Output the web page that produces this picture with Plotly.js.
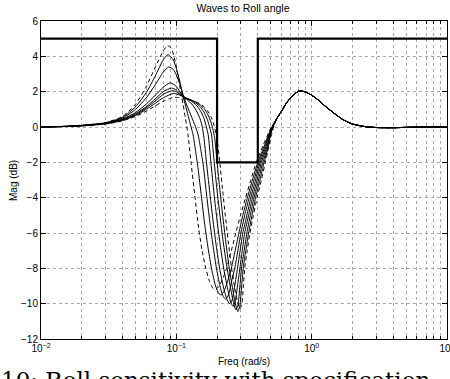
<!DOCTYPE html>
<html>
<head>
<meta charset="utf-8">
<script src="https://cdn.plot.ly/plotly-3.0.1.min.js"></script>
<style>
html,body{margin:0;padding:0;background:#fff;overflow:hidden;}
#chart{width:450px;height:379px;}
</style>
</head>
<body>
<div id="chart"></div>
<script>
// ---- data ----
const specFreq = [0.01, 0.2, 0.2, 0.4, 0.4, 10];
const specMag  = [5, 5, -2, -2, 5, 5];

const freqD1 = [0.01,0.015,0.02,0.03,0.04,0.05,0.06,0.07,0.08,0.086,0.092,0.1,0.106,0.112,0.117,0.122,0.129,0.137,0.146,0.155,0.165,0.175,0.185,0.195,0.205,0.22,0.235,0.255,0.275,0.298,0.325,0.355,0.39,0.44,0.5];
const magD1  = [0,0.04,0.1,0.25,0.6,1.3,2.3,3.4,4.3,4.6,4.45,3.4,2.3,1.3,0.45,-0.45,-2.15,-3.9,-5.7,-7.0,-8.0,-8.7,-9.1,-9.2,-9.05,-8.6,-8.0,-7.0,-6.0,-5.0,-4.0,-3.0,-2.0,-1.0,-0.05];

const freqS1 = [0.01,0.015,0.02,0.03,0.04,0.05,0.06,0.07,0.08,0.087,0.095,0.1,0.106,0.112,0.118,0.124,0.133,0.139,0.145,0.153,0.162,0.172,0.183,0.195,0.207,0.215,0.225,0.24,0.255,0.272,0.29,0.31,0.335,0.365,0.4,0.45,0.5];
const magS1  = [0,0.04,0.09,0.24,0.55,1.15,1.95,2.9,3.8,4.1,3.8,3.3,2.6,1.75,1.1,0.45,-0.45,-1.4,-2.4,-3.9,-5.5,-6.9,-8.1,-9.0,-9.45,-9.5,-9.3,-8.7,-8.0,-7.0,-6.0,-5.0,-4.0,-3.0,-2.0,-1.0,-0.1];

const freqS2 = [0.01,0.015,0.02,0.03,0.04,0.05,0.06,0.07,0.08,0.088,0.095,0.1,0.106,0.112,0.12,0.13,0.138,0.145,0.151,0.158,0.166,0.175,0.185,0.197,0.21,0.222,0.232,0.243,0.255,0.27,0.285,0.3,0.32,0.345,0.375,0.408,0.455,0.5];
const magS2  = [0,0.035,0.085,0.23,0.5,1.0,1.65,2.4,3.1,3.4,3.25,2.95,2.45,1.85,1.2,0.55,0.05,-0.45,-1.2,-2.15,-3.6,-5.1,-6.5,-7.9,-9.0,-9.6,-9.75,-9.5,-8.8,-8.0,-7.0,-6.0,-5.0,-4.0,-3.0,-2.0,-1.05,-0.15];

const freqS3 = [0.01,0.015,0.02,0.03,0.04,0.05,0.06,0.07,0.08,0.09,0.1,0.106,0.112,0.12,0.13,0.14,0.15,0.155,0.16,0.167,0.176,0.186,0.197,0.21,0.225,0.238,0.248,0.258,0.27,0.283,0.296,0.31,0.332,0.355,0.385,0.416,0.46,0.5];
const magS3  = [0,0.03,0.08,0.21,0.45,0.82,1.3,1.8,2.25,2.5,2.3,2.0,1.75,1.55,1.3,0.95,0.45,0.05,-0.6,-2.0,-3.6,-5.2,-6.7,-8.1,-9.2,-9.8,-10.0,-9.8,-9.0,-8.0,-7.0,-6.0,-5.0,-4.0,-3.0,-2.0,-1.1,-0.2];

const freqS4 = [0.01,0.015,0.02,0.03,0.04,0.05,0.06,0.07,0.08,0.092,0.1,0.106,0.112,0.12,0.13,0.14,0.15,0.16,0.166,0.172,0.18,0.19,0.2,0.212,0.225,0.24,0.252,0.262,0.272,0.283,0.295,0.307,0.32,0.342,0.365,0.395,0.425,0.465,0.5];
const magS4  = [0,0.03,0.075,0.2,0.42,0.75,1.15,1.6,2.0,2.2,2.1,1.9,1.75,1.6,1.45,1.25,0.95,0.5,0.05,-0.45,-2.0,-3.8,-5.3,-6.8,-8.1,-9.2,-9.9,-10.15,-9.9,-9.0,-8.0,-7.0,-6.0,-5.0,-4.0,-3.0,-2.0,-1.15,-0.25];

const freqS5 = [0.01,0.015,0.02,0.03,0.04,0.05,0.06,0.07,0.08,0.093,0.1,0.106,0.112,0.12,0.13,0.14,0.15,0.16,0.17,0.176,0.182,0.19,0.2,0.21,0.222,0.235,0.25,0.262,0.275,0.285,0.295,0.303,0.317,0.332,0.352,0.375,0.405,0.435,0.47,0.5];
const magS5  = [0,0.03,0.07,0.19,0.4,0.7,1.08,1.48,1.85,2.05,2.0,1.85,1.72,1.6,1.5,1.35,1.15,0.85,0.4,0.0,-0.45,-1.9,-3.6,-5.0,-6.5,-7.8,-9.0,-9.8,-10.35,-10.1,-9.0,-8.0,-7.0,-6.0,-5.0,-4.0,-3.0,-2.0,-1.2,-0.3];

const freqS6 = [0.01,0.015,0.02,0.03,0.04,0.05,0.06,0.07,0.08,0.095,0.105,0.112,0.12,0.13,0.14,0.15,0.16,0.17,0.18,0.186,0.192,0.2,0.21,0.22,0.232,0.245,0.26,0.272,0.285,0.295,0.304,0.312,0.326,0.342,0.362,0.385,0.415,0.445,0.475,0.5];
const magS6  = [0,0.025,0.065,0.18,0.37,0.65,1.0,1.35,1.65,1.9,1.82,1.72,1.62,1.52,1.4,1.25,1.05,0.75,0.3,-0.1,-0.6,-2.0,-3.6,-5.0,-6.5,-7.9,-9.1,-9.95,-10.45,-10.1,-9.0,-8.0,-7.0,-6.0,-5.0,-4.0,-3.0,-2.0,-1.2,-0.35];

const freqD2 = [0.01,0.015,0.02,0.03,0.04,0.05,0.06,0.07,0.08,0.09,0.097,0.105,0.112,0.12,0.13,0.14,0.15,0.16,0.17,0.18,0.19,0.2,0.21,0.22,0.23,0.242,0.255,0.27,0.283,0.295,0.305,0.313,0.32,0.334,0.35,0.371,0.395,0.425,0.455,0.48,0.51];
const magD2  = [0,0.025,0.06,0.17,0.35,0.6,0.9,1.2,1.45,1.62,1.68,1.66,1.62,1.57,1.5,1.42,1.3,1.15,0.92,0.6,0.1,-0.7,-2.1,-3.6,-5.0,-6.5,-7.9,-9.1,-9.9,-10.3,-10.0,-9.0,-8.0,-7.0,-6.0,-5.0,-4.0,-3.0,-2.0,-1.2,-0.3];

// common high-frequency part shared by every curve
const tailFreq = [0.55,0.6,0.65,0.7,0.75,0.815,0.9,1.0,1.1,1.25,1.44,1.7,2.0,2.5,3,4,5,7,10];
const tailMag  = [0.45,0.9,1.35,1.65,1.88,2.05,1.98,1.8,1.57,1.2,0.82,0.42,0.17,0.02,-0.03,-0.04,-0.02,0,0];

const xTickVals = [0.01, 0.1, 1, 10];
const xTickText = ['10<sup>\u22122</sup>', '10<sup>\u22121</sup>', '10<sup>0</sup>', '10<sup>1</sup>'];
const xMinorVals = [0.02,0.03,0.04,0.05,0.06,0.07,0.08,0.09,0.2,0.3,0.4,0.5,0.6,0.7,0.8,0.9,2,3,4,5,6,7,8,9];
const yTickVals = [-12,-10,-8,-6,-4,-2,0,2,4,6];

const titleText = 'Waves to Roll angle';
const xTitle = 'Freq (rad/s)';
const yTitle = 'Mag (dB)';
const captionText = '10: Roll sensitivity with specification';

// ---- build traces ----
const curves = [
  {f: freqD1, m: magD1, dash: true},
  {f: freqS1, m: magS1, dash: false},
  {f: freqS2, m: magS2, dash: false},
  {f: freqS3, m: magS3, dash: false},
  {f: freqS4, m: magS4, dash: false},
  {f: freqS5, m: magS5, dash: false},
  {f: freqS6, m: magS6, dash: false},
  {f: freqD2, m: magD2, dash: true}
];

const traces = curves.map(c => ({
  x: c.f.concat(tailFreq),
  y: c.m.concat(tailMag),
  type: 'scatter', mode: 'lines',
  line: {color: '#000', width: 1, dash: c.dash ? '4px,3px' : 'solid', shape: 'spline', smoothing: 0.6},
  hoverinfo: 'skip', showlegend: false
}));

traces.push({
  x: specFreq, y: specMag, type: 'scatter', mode: 'lines',
  line: {color: '#000', width: 2.2},
  hoverinfo: 'skip', showlegend: false
});

const font = {family: 'Liberation Sans, Arial, sans-serif', color: '#000'};
const gridCol = '#a8a8a8';

const layout = {
  width: 450, height: 379,
  margin: {l: 41, r: 3, t: 21, b: 40},
  paper_bgcolor: '#fff', plot_bgcolor: '#fff',
  showlegend: false,
  font: Object.assign({size: 10}, font),
  title: {text: titleText, font: Object.assign({size: 10.5}, font), x: 0.54, xanchor: 'center', y: 0.978, yanchor: 'middle'},
  xaxis: {
    type: 'log', range: [-2, 1],
    tickmode: 'array', tickvals: xTickVals, ticktext: xTickText,
    ticks: 'inside', ticklen: 5, tickcolor: '#000',
    ticklabeloverflow: 'allow',
    showline: true, linecolor: '#000', linewidth: 1, mirror: 'allticks',
    showgrid: true, gridcolor: gridCol, griddash: 'dot', gridwidth: 1,
    minor: {tickmode: 'array', tickvals: xMinorVals, ticks: 'inside', ticklen: 3, tickcolor: '#000',
            showgrid: true, gridcolor: gridCol, griddash: 'dot', gridwidth: 1},
    zeroline: false,
    tickfont: Object.assign({size: 10}, font),
    title: {text: xTitle, font: Object.assign({size: 10}, font), standoff: 4}
  },
  yaxis: {
    range: [-12, 6],
    tickmode: 'array', tickvals: yTickVals,
    ticks: 'inside', ticklen: 5, tickcolor: '#000',
    showline: true, linecolor: '#000', linewidth: 1, mirror: 'allticks',
    showgrid: true, gridcolor: gridCol, griddash: 'dot', gridwidth: 1,
    zeroline: false,
    tickfont: Object.assign({size: 10}, font)
  },
  annotations: [{
    text: yTitle, xref: 'paper', yref: 'paper',
    x: -0.069, xanchor: 'center', y: 0.5, yanchor: 'middle', textangle: -90,
    showarrow: false, font: Object.assign({size: 10}, font)
  }, {
    text: captionText, xref: 'paper', yref: 'paper',
    x: -0.103, xanchor: 'left', y: -0.081, yanchor: 'top',
    showarrow: false,
    font: {family: 'DejaVu Serif, Liberation Serif, serif', size: 23, color: '#000'}
  }]
};

Plotly.newPlot('chart', traces, layout, {staticPlot: true, displayModeBar: false});
</script>
</body>
</html>
